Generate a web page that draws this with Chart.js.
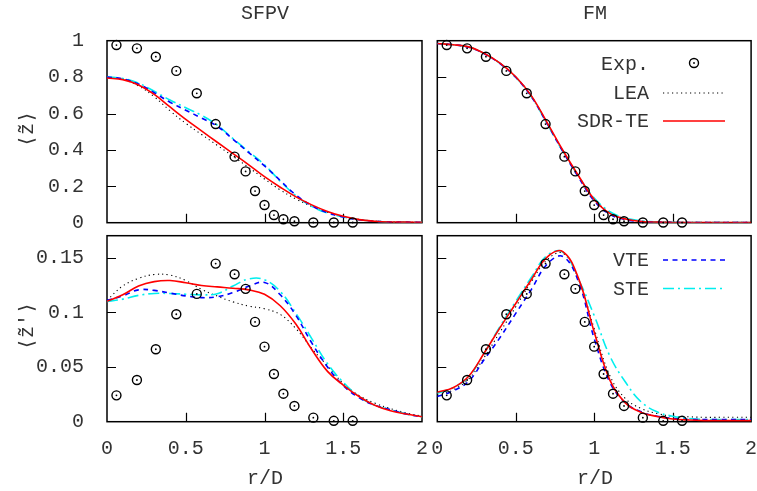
<!DOCTYPE html>
<html>
<head>
<meta charset="utf-8">
<script src="https://cdn.jsdelivr.net/npm/chart.js@4.4.1/dist/chart.umd.min.js"></script>
<style>
  body { margin: 0; background: #fff; }
  #wrap { position: relative; width: 757px; height: 491px; overflow: hidden;
          font-family: "Liberation Mono", "Courier New", monospace; font-size: 20px; color: #333; }
  #wrap canvas { position: absolute; left: 0; top: 0; }
  .lbl { position: absolute; white-space: nowrap; line-height: 1; }
  .ctr { transform: translate(-50%, -50%); }
  .rot { transform: translate(-50%, -50%) rotate(-90deg); }
  .leg { position: absolute; right: 108px; white-space: nowrap; line-height: 1; transform: translateY(-50%); }
  svg { position: absolute; overflow: visible; }
</style>
</head>
<body>
<div id="wrap">
  <canvas id="cTL" width="757" height="491"></canvas>
  <canvas id="cTR" width="757" height="491"></canvas>
  <canvas id="cBL" width="757" height="491"></canvas>
  <canvas id="cBR" width="757" height="491"></canvas>

  <div class="lbl ctr" style="left:265px; top:14px">SFPV</div>
  <div class="lbl ctr" style="left:595px; top:14px">FM</div>
  <div class="lbl rot" style="left:28px; top:129px">⟨z̃⟩</div>
  <div class="lbl rot" style="left:28px; top:326px">⟨z̃′⟩</div>
  <div class="lbl ctr" style="left:265px; top:479px">r/D</div>
  <div class="lbl ctr" style="left:595px; top:479px">r/D</div>

  <!-- legends -->
  <div class="leg" style="top:65px">Exp.</div>
  <svg style="left:0; top:0" width="757" height="491">
    <circle cx="694" cy="63" r="4.5" fill="none" stroke="#000" stroke-width="1.4"/>
    <circle cx="694" cy="63" r="0.9" fill="#000"/>
    <line x1="663" y1="93" x2="725" y2="93" stroke="#000" stroke-width="1.1" stroke-dasharray="1.2 3.3"/>
    <line x1="663" y1="121" x2="725" y2="121" stroke="#ff0000" stroke-width="1.6"/>
    <line x1="663" y1="260" x2="725" y2="260" stroke="#0000ff" stroke-width="1.6" stroke-dasharray="5 4.5"/>
    <line x1="663" y1="288.5" x2="725" y2="288.5" stroke="#00eeee" stroke-width="1.6" stroke-dasharray="11 4 2 4"/>
  </svg>
  <div class="leg" style="top:94px">LEA</div>
  <div class="leg" style="top:122px">SDR-TE</div>
  <div class="leg" style="top:261px">VTE</div>
  <div class="leg" style="top:290px">STE</div>
</div>

<script>
const FONT = '"Liberation Mono", "Courier New", monospace';

// tick values
const rTicks = [0, 0.5, 1, 1.5, 2];
const meanTicks = [0, 0.2, 0.4, 0.6, 0.8, 1];
const rmsTicks = [0, 0.05, 0.1, 0.15];

// radial positions of the model curves and of the measurements
const rGrid = [0, 0.1, 0.2, 0.3, 0.4, 0.5, 0.6, 0.7, 0.8, 0.9, 1.0, 1.1, 1.2, 1.3, 1.4, 1.5, 1.6, 1.7, 1.8, 1.9, 2.0];
const rExp = [0.06, 0.19, 0.31, 0.44, 0.57, 0.69, 0.81, 0.88, 0.94, 1.0, 1.06, 1.12, 1.19, 1.31, 1.44, 1.56];

// experiment (same in both columns)
const expMean = [0.976, 0.958, 0.912, 0.834, 0.711, 0.542, 0.363, 0.282, 0.174, 0.097, 0.042, 0.019, 0.008, 0.001, 0.001, 0.001];
const expRms = [0.0241, 0.0381, 0.0662, 0.0982, 0.1168, 0.1445, 0.1348, 0.1214, 0.0912, 0.0686, 0.0436, 0.0256, 0.0144, 0.0037, 0.0008, 0.0008];

// SFPV, mean
const leaMeanSFPV = [0.800, 0.788, 0.752, 0.692, 0.615, 0.546, 0.485, 0.425, 0.365, 0.303, 0.240, 0.180, 0.130, 0.090, 0.058, 0.035, 0.018, 0.009, 0.005, 0.003, 0.002];
const sdrMeanSFPV = [0.795, 0.786, 0.757, 0.705, 0.636, 0.568, 0.505, 0.442, 0.380, 0.318, 0.253, 0.195, 0.142, 0.098, 0.062, 0.035, 0.017, 0.008, 0.004, 0.003, 0.002];
const vteMeanSFPV = [0.800, 0.790, 0.762, 0.714, 0.662, 0.618, 0.575, 0.530, 0.458, 0.385, 0.312, 0.232, 0.152, 0.094, 0.055, 0.031, 0.016, 0.008, 0.004, 0.003, 0.002];
const steMeanSFPV = [0.802, 0.792, 0.767, 0.722, 0.674, 0.632, 0.590, 0.536, 0.462, 0.390, 0.318, 0.228, 0.148, 0.090, 0.053, 0.032, 0.016, 0.008, 0.004, 0.003, 0.002];

// SFPV, fluctuation
const leaRmsSFPV = [0.111, 0.124, 0.131, 0.1345, 0.134, 0.129, 0.121, 0.1148, 0.1095, 0.1057, 0.1032, 0.098, 0.085, 0.067, 0.051, 0.035, 0.024, 0.017, 0.012, 0.008, 0.005];
const sdrRmsSFPV = [0.110, 0.116, 0.124, 0.128, 0.129, 0.127, 0.1245, 0.1232, 0.122, 0.1205, 0.1165, 0.106, 0.089, 0.066, 0.046, 0.0335, 0.023, 0.015, 0.010, 0.007, 0.0045];
const vteRmsSFPV = [0.111, 0.115, 0.1205, 0.120, 0.1175, 0.115, 0.1134, 0.1142, 0.118, 0.1237, 0.1273, 0.116, 0.097, 0.072, 0.050, 0.033, 0.022, 0.015, 0.011, 0.007, 0.0045];
const steRmsSFPV = [0.110, 0.112, 0.1155, 0.1172, 0.1172, 0.1165, 0.1159, 0.117, 0.124, 0.1305, 0.1298, 0.119, 0.099, 0.076, 0.053, 0.036, 0.023, 0.015, 0.011, 0.007, 0.0045];

// FM, mean
const leaMeanFM = [0.985, 0.978, 0.965, 0.929, 0.876, 0.801, 0.695, 0.547, 0.394, 0.254, 0.130, 0.055, 0.022, 0.009, 0.004, 0.003, 0.002, 0.002, 0.002, 0.002, 0.002];
const sdrMeanFM = [0.985, 0.978, 0.966, 0.930, 0.877, 0.802, 0.697, 0.550, 0.398, 0.258, 0.128, 0.051, 0.020, 0.007, 0.003, 0.0015, 0.001, 0.001, 0.001, 0.001, 0.001];
const vteMeanFM = [0.985, 0.978, 0.964, 0.928, 0.874, 0.799, 0.692, 0.545, 0.392, 0.250, 0.120, 0.046, 0.017, 0.006, 0.003, 0.002, 0.001, 0.001, 0.001, 0.001, 0.001];
const steMeanFM = [0.985, 0.978, 0.965, 0.929, 0.875, 0.799, 0.692, 0.543, 0.392, 0.256, 0.135, 0.060, 0.025, 0.010, 0.004, 0.002, 0.001, 0.001, 0.001, 0.001, 0.001];

// FM, fluctuation
const leaRmsFM = [0.024, 0.029, 0.039, 0.059, 0.082, 0.105, 0.128, 0.148, 0.154, 0.130, 0.085, 0.042, 0.021, 0.012, 0.0075, 0.005, 0.0045, 0.004, 0.004, 0.004, 0.004];
const sdrRmsFM = [0.027, 0.031, 0.0415, 0.063, 0.086, 0.108, 0.130, 0.1505, 0.1555, 0.131, 0.082, 0.038, 0.017, 0.0085, 0.0048, 0.0025, 0.0015, 0.001, 0.001, 0.001, 0.001];
const vteRmsFM = [0.023, 0.028, 0.037, 0.057, 0.077, 0.099, 0.121, 0.144, 0.151, 0.128, 0.076, 0.036, 0.017, 0.009, 0.005, 0.003, 0.002, 0.002, 0.002, 0.002, 0.002];
const steRmsFM = [0.026, 0.031, 0.041, 0.063, 0.087, 0.110, 0.132, 0.152, 0.155, 0.130, 0.097, 0.060, 0.036, 0.018, 0.009, 0.005, 0.003, 0.002, 0.002, 0.002, 0.002];

function curve(label, ys, color, dash, width) {
    return {
        label: label,
        data: rGrid.map((r, i) => ({ x: r, y: ys[i] })),
        borderColor: color,
        borderDash: dash,
        borderWidth: width,
        pointRadius: 0,
        tension: 0.4,
        fill: false
    };
}

// open circle plus a small centre dot, gnuplot point type 6 look
function expSets(ys) {
    const pts = rExp.map((r, i) => ({ x: r, y: ys[i] }));
    return [{
        label: 'Exp.',
        data: pts,
        showLine: false,
        pointStyle: 'circle',
        pointRadius: 4.5,
        pointBorderWidth: 1.4,
        pointBorderColor: '#000',
        pointBackgroundColor: 'rgba(0,0,0,0)',
        clip: false
    }, {
        label: 'Exp. centre',
        data: pts,
        showLine: false,
        pointStyle: 'circle',
        pointRadius: 0.9,
        pointBorderWidth: 0,
        pointBackgroundColor: '#000',
        clip: false
    }];
}

// box round the plot area plus inward tick marks, under the data
function makeFrame(yTicks) {
    return {
        id: 'frame',
        beforeDatasetsDraw(chart) {
            const ctx = chart.ctx, a = chart.chartArea;
            const xs = chart.scales.x, ys = chart.scales.y;
            ctx.save();
            ctx.setLineDash([]);
            ctx.strokeStyle = '#000';
            ctx.lineWidth = 1.2;
            ctx.beginPath();
            rTicks.slice(1, -1).forEach(v => {
                const px = Math.round(xs.getPixelForValue(v)) + 0.5;
                ctx.moveTo(px, a.bottom);
                ctx.lineTo(px, a.bottom - 9);
            });
            yTicks.slice(1).forEach(v => {
                if (v >= ys.max) return;
                const py = Math.round(ys.getPixelForValue(v)) + 0.5;
                ctx.moveTo(a.left, py);
                ctx.lineTo(a.left + 9, py);
            });
            ctx.stroke();
            ctx.lineWidth = 1.5;
            ctx.strokeRect(a.left, a.top, a.right - a.left, a.bottom - a.top);
            ctx.restore();
        }
    };
}

const fmtTick = v => String(+Number(v).toFixed(4));

function makeChart(id, datasets, opt) {
    const tickFont = { family: FONT, size: 20 };
    return new Chart(document.getElementById(id), {
        type: 'line',
        data: { datasets: datasets },
        plugins: [makeFrame(opt.yTicks)],
        options: {
            responsive: false,
            animation: false,
            events: [],
            layout: { padding: opt.pad },
            plugins: { legend: { display: false }, tooltip: { enabled: false } },
            scales: {
                x: {
                    type: 'linear', min: 0, max: 2,
                    border: { display: false },
                    grid: { display: false },
                    afterBuildTicks: s => { s.ticks = rTicks.map(v => ({ value: v })); },
                    ticks: { display: opt.showX, padding: 7, color: '#333', font: tickFont,
                             maxRotation: 0, autoSkip: false, callback: fmtTick },
                    afterFit: s => { s.height = opt.showX ? 60 : 0; s.paddingLeft = 0; s.paddingRight = 0; }
                },
                y: {
                    type: 'linear', min: opt.yMin, max: opt.yMax,
                    border: { display: false },
                    grid: { display: false },
                    afterBuildTicks: s => { s.ticks = opt.yTicks.map(v => ({ value: v })); },
                    ticks: { display: opt.showY, padding: 15, color: '#333', font: tickFont, callback: fmtTick },
                    afterFit: s => { s.width = opt.showY ? 107 : 10; s.paddingTop = 0; s.paddingBottom = 0; }
                }
            }
        }
    });
}

function panel(id, exp, sdr, vte, ste, lea, opt) {
    makeChart(id, [
        ...expSets(exp),
        curve('SDR-TE', sdr, '#ff0000', [], 1.6),
        curve('VTE', vte, '#0000ff', [5, 4.5], 1.6),
        curve('STE', ste, '#00eeee', [11, 4, 2, 4], 1.6),
        curve('LEA', lea, '#000000', [1.2, 3.3], 1.1)
    ], opt);
}

panel('cTL', expMean, sdrMeanSFPV, vteMeanSFPV, steMeanSFPV, leaMeanSFPV,
    { pad: { left: 0, right: 335, top: 40.7, bottom: 268.3 }, yMin: 0, yMax: 1, yTicks: meanTicks, showX: false, showY: true });
panel('cTR', expMean, sdrMeanFM, vteMeanFM, steMeanFM, leaMeanFM,
    { pad: { left: 427.3, right: 4.7, top: 40.7, bottom: 268.3 }, yMin: 0, yMax: 1, yTicks: meanTicks, showX: false, showY: false });
panel('cBL', expRms, sdrRmsSFPV, vteRmsSFPV, steRmsSFPV, leaRmsSFPV,
    { pad: { left: 0, right: 335, top: 235.7, bottom: 9.3 }, yMin: 0, yMax: 0.17, yTicks: rmsTicks, showX: true, showY: true });
panel('cBR', expRms, sdrRmsFM, vteRmsFM, steRmsFM, leaRmsFM,
    { pad: { left: 427.3, right: 4.7, top: 235.7, bottom: 9.3 }, yMin: 0, yMax: 0.17, yTicks: rmsTicks, showX: true, showY: false });
</script>
</body>
</html>
